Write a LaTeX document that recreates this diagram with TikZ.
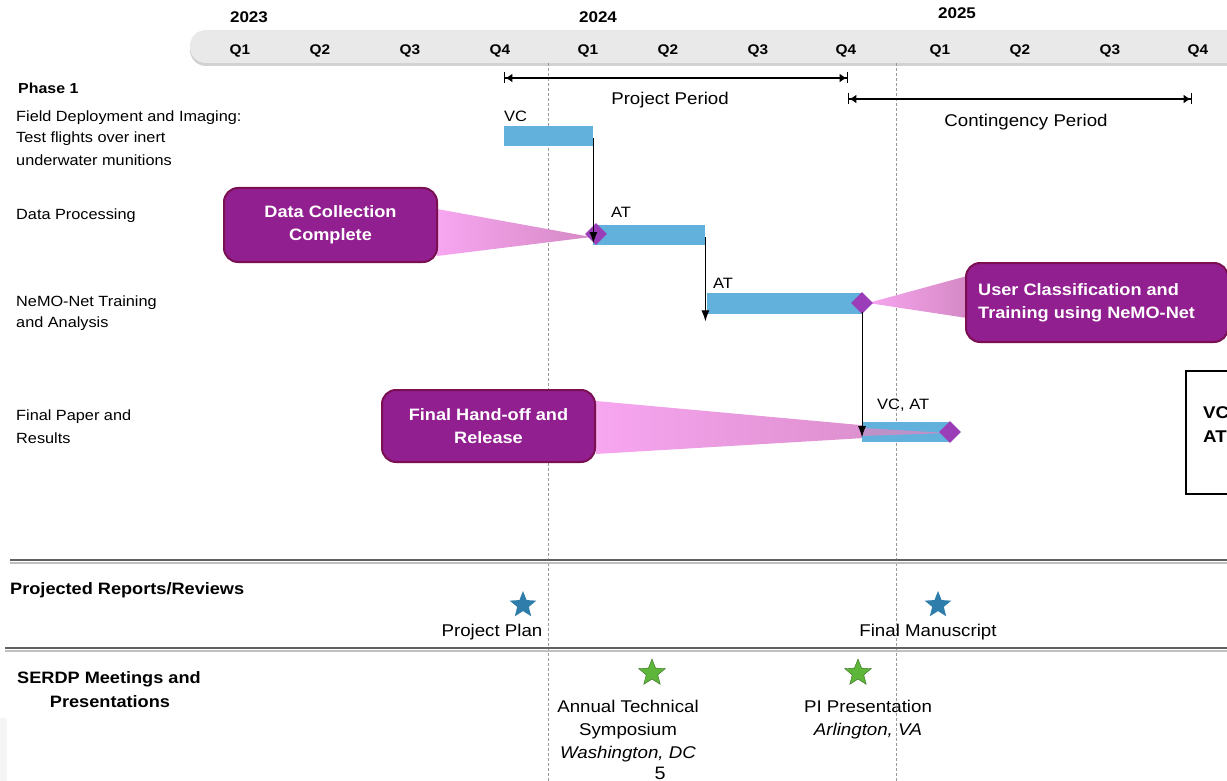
\documentclass[tikz,border=0pt]{standalone}
\usepackage{fontspec}
\setmainfont{Liberation Sans}[FakeStretch=1.1]
\usetikzlibrary{shapes.geometric,arrows.meta,shadows,calc}
\definecolor{barblue}{HTML}{62B1DD}
\definecolor{dia}{HTML}{9B3DB8}
\definecolor{callfill}{HTML}{911F8F}
\definecolor{callborder}{HTML}{7A1052}
\definecolor{pinklight}{HTML}{F7A6F0}
\definecolor{pinkdark}{HTML}{D589C4}
\definecolor{starblue}{HTML}{2E7DAA}
\definecolor{stargreen}{HTML}{5DB63A}
\definecolor{hdr}{HTML}{E9E9E9}
\tikzset{
  txt/.style={font=\fontsize{14.8}{17}\selectfont, inner sep=0pt},
  bigtxt/.style={font=\fontsize{17}{20}\selectfont, inner sep=0pt},
  btxt/.style={font=\bfseries\fontsize{14.5}{17}\selectfont, inner sep=0pt},
  bbig/.style={font=\bfseries\fontsize{16.5}{20}\selectfont, inner sep=0pt},
  ylab/.style={font=\bfseries\fontsize{15.5}{18}\selectfont, inner sep=0pt},
  qlab/.style={font=\bfseries\fontsize{14}{17}\selectfont, inner sep=0pt},
  small/.style={font=\fontsize{15}{17}\selectfont, inner sep=0pt},
  bar/.style={fill=barblue, draw=none},
  mile/.style={diamond, fill=dia, draw=none, minimum size=22pt, inner sep=0pt},
  callout/.style={rounded corners=14pt, fill=callfill, draw=callborder, line width=2pt,
     text=white, font=\bfseries\fontsize{16.5}{23}\selectfont, align=center, inner sep=0pt},
  calltext/.style={text=white, font=\bfseries\fontsize{16.5}{23}\selectfont, align=left, inner sep=0pt},
  link/.style={-{Latex[length=11pt,width=8pt]}, line width=1pt},
  period/.style={line width=1.4pt, {Bar[width=11pt,line width=1.4pt]Latex[length=7pt,width=9pt]}-{Latex[length=7pt,width=9pt]Bar[width=11pt,line width=1.4pt]}},
  vline/.style={gray!80, line width=0.8pt, dash pattern=on 3pt off 2pt},
  sep/.style={line width=2.2pt, black!62},
  starnode/.style={star, star points=5, star point ratio=2.3, minimum size=28pt, inner sep=0pt, draw=none}
}
\begin{document}
\begin{tikzpicture}[x=1pt,y=-1pt]
\useasboundingbox (0,0) rectangle (1227,781);
\clip (0,0) rectangle (1227,781);
\fill[white] (0,0) rectangle (1227,781);
\fill[gray!8] (0,718) rectangle (7,781);

% header
\fill[hdr, rounded corners=16pt, drop shadow={shadow xshift=0pt, shadow yshift=-3pt, opacity=0.35}] (190,30) rectangle (1270,63);
\node[ylab] (y23) at (249,17) {2023};
\node[ylab] (y24) at (598,17) {2024};
\node[ylab] (y25) at (957,13) {2025};
\foreach \x/\q/\n in {240/Q1/a,320/Q2/b,410/Q3/c,500/Q4/d,588/Q1/e,668/Q2/f,758/Q3/g,846/Q4/h,940/Q1/i,1020/Q2/j,1110/Q3/k,1198/Q4/l}
  \node[qlab] (q\n) at (\x,51) {\q};

% dotted year dividers
\draw[vline] (548,63) -- (548,781);
\draw[vline] (896,63) -- (896,781);

% periods
\coordinate (pp1) at (504,78); \coordinate (pp2) at (848,78);
\draw[period] (pp1) -- (pp2);
\node[bigtxt] (pplab) at (670,100) {Project Period};
\coordinate (cp1) at (848,99); \coordinate (cp2) at (1192,99);
\draw[period] (cp1) -- (cp2);
\node[bigtxt] (cplab) at (1026,122) {Contingency Period};

% row labels
\node[btxt, anchor=west] (ph1) at (18,88) {Phase 1};
\node[txt, anchor=west] (r1a) at (16,118) {Field Deployment and Imaging:};
\node[txt, anchor=west] (r1b) at (16,139) {Test flights over inert};
\node[txt, anchor=west] (r1c) at (16,160) {underwater munitions};
\node[txt, anchor=west] (r2) at (16,216) {Data Processing};
\node[txt, anchor=west] (r3a) at (16,303) {NeMO-Net Training};
\node[txt, anchor=west] (r3b) at (16,324) {and Analysis};
\node[txt, anchor=west] (r4a) at (16,417) {Final Paper and};
\node[txt, anchor=west] (r4b) at (16,438) {Results};

% callout wedges
\shade[left color=pinklight, right color=pinkdark] (437,209) -- (591,237) -- (437,256) -- cycle;
\shade[left color=pinklight, right color=pinkdark] (868,303) -- (967,276) -- (967,318) -- cycle;
\shade[left color=pinklight, right color=pinkdark] (596,401) -- (948,433) -- (596,454) -- cycle;

% bars
\node[bar, minimum width=89pt, minimum height=20pt, inner sep=0pt, anchor=north west] (b1) at (504,126) {};
\node[bar, minimum width=112pt, minimum height=20pt, inner sep=0pt, anchor=north west] (b2) at (593,225) {};
\node[bar, minimum width=155pt, minimum height=21pt, inner sep=0pt, anchor=north west] (b3) at (707,293) {};
\node[bar, minimum width=88pt, minimum height=20pt, inner sep=0pt, anchor=north west] (b4) at (862,422) {};
\fill[pinkdark, opacity=0.8] (862,428) -- (948,433) -- (862,436) -- cycle;

% bar labels
\node[small, anchor=west] (l1) at (504,116) {VC};
\node[small, anchor=west] (l2) at (611,212) {AT};
\node[small, anchor=west] (l3) at (713,283) {AT};
\node[small, anchor=west] (l4) at (877,405) {VC, AT};

% milestones
\node[mile] (m1) at (596,234) {};
\node[mile] (m2) at (862,303) {};
\node[mile] (m3) at (950,432) {};

% dependency arrows
\draw[link] ($(b1.east)+(0,2)$) -- ($(b1.east |- m1.center)+(0,9)$);
\draw[link] ($(b2.east)+(0,2)$) -- ($(b2.east |- b3.south)+(0,7)$);
\draw[link] ($(m2.center)+(0,9)$) -- ($(m2.center |- b4.center)+(0,5)$);

% callouts
\node[callout, minimum width=213pt, minimum height=74pt] (c1) at (330.5,225) {Data Collection\\Complete};
\node[callout, minimum width=262pt, minimum height=79pt] (c2) at (1097,302.5) {};
\node[calltext, anchor=west] (c2t) at ($(c2.west)+(13,0)$) {User Classification and\\Training using NeMO-Net};
\node[callout, minimum width=213pt, minimum height=72pt] (c3) at (488.5,426) {Final Hand-off and\\Release};

% right box (cut off)
\draw[line width=1.2pt] (1240,371) -- (1186,371) -- (1186,494) -- (1240,494);
\node[font=\bfseries\fontsize{17}{21}\selectfont, anchor=west, inner sep=0pt] (rb1) at (1203,413) {VC};
\node[font=\bfseries\fontsize{17}{21}\selectfont, anchor=west, inner sep=0pt] (rb2) at (1203,437) {AT};

% separators
\draw[black!25, line width=1.5pt] (10,563) -- (1227,563);
\draw[sep] (10,560) -- (1227,560);
\draw[black!25, line width=1.5pt] (5,651) -- (1227,651);
\draw[sep] (5,648) -- (1227,648);

% reports
\node[bbig, anchor=west] (rep) at (10,590) {Projected Reports/Reviews};
\node[starnode, fill=starblue] (s1) at (523,605) {};
\node[starnode, fill=starblue] (s2) at (938,605) {};
\node[bigtxt] (s1l) at (492,632) {Project Plan};
\node[bigtxt] (s2l) at (928,632) {Final Manuscript};

% meetings
\node[bbig, anchor=west] (mt1) at (17,679) {SERDP Meetings and};
\node[bbig] (mt2) at (110,702) {Presentations};
\node[starnode, fill=stargreen, draw=stargreen!60!black, line width=0.4pt] (g1) at (652,673) {};
\node[starnode, fill=stargreen, draw=stargreen!60!black, line width=0.4pt] (g2) at (858,673) {};
\node[bigtxt, align=center, font=\fontsize{17}{23}\selectfont] (g1l) at (628,731) {Annual Technical\\Symposium\\\textit{Washington, DC}};
\node[bigtxt, align=center, font=\fontsize{17}{23}\selectfont] (g2l) at (868,719.5) {PI Presentation\\\textit{Arlington, VA}};

\node[font=\fontsize{18}{20}\selectfont, inner sep=0pt] (pg) at (660,773) {5};
\end{tikzpicture}
\end{document}
